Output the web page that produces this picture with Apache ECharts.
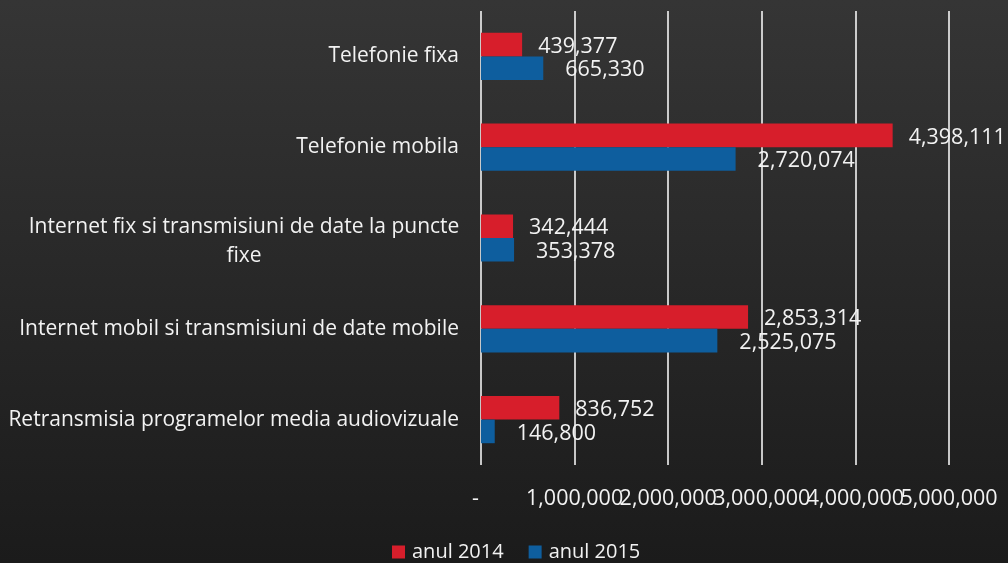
<!DOCTYPE html>
<html>
<head>
<meta charset="UTF-8">
<title>Venituri</title>
<script src="https://cdn.jsdelivr.net/npm/echarts@6/dist/echarts.min.js"></script>
<style>
  html, body { margin: 0; padding: 0; }
  body { background: linear-gradient(#353535, #1b1b1b); }
  #main { width: 1008px; height: 563px; }
</style>
</head>
<body>
<div id="main"></div>
<script type="text/javascript">
var categories = [
  'Telefonie fixa',
  'Telefonie mobila',
  'Internet fix si transmisiuni de date la puncte fixe',
  'Internet mobil si transmisiuni de date mobile',
  'Retransmisia programelor media audiovizuale'
];
var an2014 = [439377, 4398111, 342444, 2853314, 836752];
var an2015 = [665330, 2720074, 353378, 2525075, 146800];
var seriesNames = ['anul 2014', 'anul 2015'];
var xMin = 0, xMax = 5000000, xStep = 1000000;

var txt = '#f2f2f2';
var font = 'Open Sans';

function fmt(v) {
  return v === 0 ? '-  ' : v.toLocaleString('en-US');
}

// labels overlap like in the original, so the last one sits on its own axis
// (otherwise echarts hides one of them)
var axisBase = {
  type: 'value',
  min: xMin,
  max: xMax,
  interval: xStep,
  axisLine: { show: false },
  axisTick: { show: false }
};

var chart = echarts.init(document.getElementById('main'));
var option = {
  backgroundColor: 'transparent',
  textStyle: { fontFamily: font },
  grid: { left: 481, right: 59, top: 11, bottom: 98 },
  legend: {
    top: 542,
    left: 392,
    padding: 0,
    icon: 'rect',
    itemWidth: 13,
    itemHeight: 13,
    itemGap: 25,
    textStyle: { color: txt, fontSize: 20, fontFamily: font, padding: [0, 0, 0, 2] },
    data: seriesNames
  },
  xAxis: [
    Object.assign({}, axisBase, {
      splitLine: { lineStyle: { color: '#ffffff', width: 1.5 } },
      axisLabel: {
        color: txt, fontSize: 21.5, fontFamily: font, margin: 23,
        formatter: function (v) { return v === xMax ? '' : fmt(v); }
      }
    }),
    Object.assign({}, axisBase, {
      position: 'bottom',
      splitLine: { show: false },
      axisLabel: {
        color: txt, fontSize: 21.5, fontFamily: font, margin: 23,
        formatter: function (v) { return v === xMax ? fmt(v) : ''; }
      }
    })
  ],
  yAxis: {
    type: 'category',
    inverse: true,
    data: categories,
    axisLine: { show: false },
    axisTick: { show: false },
    axisLabel: {
      color: txt, fontSize: 21, fontFamily: font, margin: 22,
      formatter: function (v) {
        if (v.indexOf('puncte fixe') > 0) {
          return '{e| }\n{a|Internet fix si transmisiuni de date la puncte}\n{c|fixe}';
        }
        return v;
      },
      rich: {
        e: { fontSize: 4, lineHeight: 7 },
        a: { width: 430, align: 'center', color: txt, fontSize: 21, fontFamily: font, lineHeight: 29 },
        c: { width: 430, align: 'center', color: txt, fontSize: 21, fontFamily: font, lineHeight: 29 }
      }
    }
  },
  series: [
    {
      name: seriesNames[0],
      type: 'bar',
      data: an2014,
      barGap: '0%',
      barCategoryGap: '48%',
      itemStyle: { color: '#d71e2b' },
      label: {
        show: true, position: 'right', distance: 16, offset: [0, 2],
        color: txt, fontSize: 21.5, fontFamily: font,
        formatter: function (p) { return fmt(p.value); }
      }
    },
    {
      name: seriesNames[1],
      type: 'bar',
      data: an2015,
      itemStyle: { color: '#0e5e9e' },
      label: {
        show: true, position: 'right', distance: 22, offset: [0, 2],
        color: txt, fontSize: 21.5, fontFamily: font,
        formatter: function (p) { return fmt(p.value); }
      }
    }
  ]
};
chart.setOption(option);
</script>
</body>
</html>
